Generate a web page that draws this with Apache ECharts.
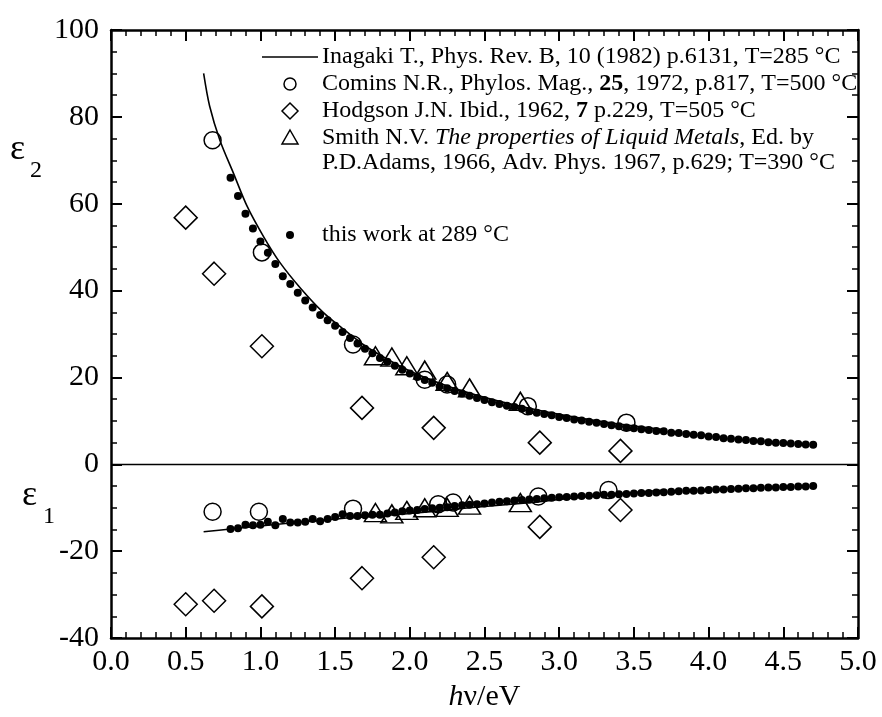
<!DOCTYPE html>
<html><head><meta charset="utf-8">
<script src="https://cdn.jsdelivr.net/npm/echarts@6/dist/echarts.min.js"></script>
<style>html,body{margin:0;padding:0;background:#fff}#c{width:882px;height:717px}</style>
</head><body><div id="c"></div>
<script>
// ---- data (photon energy hv in eV) ----
const workE = [0.80,0.85,0.90,0.95,1.00,1.05,1.10,1.15,1.20,1.25,1.30,1.35,1.40,1.45,1.50,1.55,1.60,1.65,1.70,1.75,1.80,1.85,1.90,1.95,2.00,2.05,2.10,2.15,2.20,2.25,2.30,2.35,2.40,2.45,2.50,2.55,2.60,2.65,2.70,2.75,2.80,2.85,2.90,2.95,3.00,3.05,3.10,3.15,3.20,3.25,3.30,3.35,3.40,3.45,3.50,3.55,3.60,3.65,3.70,3.75,3.80,3.85,3.90,3.95,4.00,4.05,4.10,4.15,4.20,4.25,4.30,4.35,4.40,4.45,4.50,4.55,4.60,4.65,4.70];
const workEps2 = [66.0,61.8,57.7,54.3,51.3,48.7,46.1,43.3,41.5,39.5,37.7,36.1,34.4,33.2,31.9,30.5,29.1,27.8,26.6,25.6,24.5,23.6,22.7,21.8,20.9,20.1,19.4,18.8,18.0,17.5,16.9,16.3,15.8,15.3,14.8,14.3,13.9,13.5,13.2,12.8,12.3,11.9,11.6,11.3,10.9,10.7,10.3,10.1,9.8,9.6,9.3,9.0,8.8,8.5,8.3,8.1,7.9,7.7,7.6,7.3,7.2,7.0,6.8,6.7,6.4,6.3,6.0,5.9,5.7,5.6,5.4,5.3,5.1,5.0,4.9,4.8,4.7,4.6,4.5];
const workEps1 = [-14.9,-14.7,-13.9,-14.0,-13.9,-13.2,-14.0,-12.6,-13.4,-13.4,-13.2,-12.6,-13.1,-12.6,-12.1,-11.5,-11.9,-11.9,-11.7,-11.6,-11.6,-11.3,-11.1,-10.8,-10.6,-10.5,-10.3,-10.1,-10.0,-9.9,-9.6,-9.4,-9.3,-9.2,-9.0,-8.8,-8.6,-8.5,-8.3,-8.2,-8.1,-8.0,-7.8,-7.7,-7.6,-7.5,-7.4,-7.3,-7.2,-7.1,-7.0,-7.0,-6.9,-6.8,-6.7,-6.6,-6.6,-6.5,-6.4,-6.3,-6.2,-6.1,-6.1,-6.0,-5.9,-5.8,-5.8,-5.7,-5.6,-5.5,-5.5,-5.4,-5.3,-5.3,-5.2,-5.2,-5.1,-5.1,-5.0];

const inagakiE2   = [0.62,0.66,0.73,0.82,0.91,1.02,1.13,1.27,1.42,1.56,1.70,1.85,2.00,2.20,2.40,2.60,2.80,3.00,3.20,3.40,3.70];
const inagakiEps2 = [90,82.5,74.5,67,59.5,52.5,46.5,40.5,35,31,27.3,24.2,21.5,18.7,16.4,14.5,12.9,11.5,10.3,9.3,8.0];
const inagakiE1   = [0.62,0.80,1.00,1.20,1.40,1.60,1.80,2.00,2.20,2.40,2.60,2.80,3.00,3.20,3.40,3.60,3.70];
const inagakiEps1 = [-15.5,-14.9,-14.2,-13.5,-12.9,-12.3,-11.9,-11.3,-10.7,-10.0,-9.4,-8.8,-8.1,-7.4,-6.8,-6.2,-5.9];

const cominsE2   = [0.68,1.01,1.62,2.10,2.25,2.79,3.45];
const cominsEps2 = [74.6,48.8,27.6,19.5,18.4,13.4,9.6];
const cominsE1   = [0.68,0.99,1.62,2.19,2.29,2.86,3.33];
const cominsEps1 = [-10.9,-10.9,-10.2,-9.2,-8.8,-7.4,-5.9];

const hodgsonE    = [0.50,0.69,1.01,1.68,2.16,2.87,3.41];
const hodgsonEps2 = [56.8,43.9,27.2,13.0,8.4,5.0,3.1];
const hodgsonEps1 = [-32.2,-31.4,-32.7,-26.2,-21.4,-14.4,-10.5];

const smithE    = [1.77,1.88,1.98,2.10,2.25,2.40,2.74];
const smithEps2 = [25.0,24.7,22.7,21.7,19.1,17.6,14.5];
const smithEps1 = [-11.1,-11.4,-10.6,-10.0,-9.9,-9.4,-8.8];

const legendTexts = [
  'Inagaki T., Phys. Rev. B, 10 (1982) p.6131, T=285 °C',
  'Comins N.R., Phylos. Mag., {b|25}, 1972, p.817, T=500 °C',
  'Hodgson J.N. Ibid., 1962, {b|7} p.229, T=505 °C',
  'Smith N.V. {i|The properties of Liquid Metals}, Ed. by',
  'P.D.Adams, 1966, Adv. Phys. 1967, p.629; T=390 °C',
  'this work at 289 °C'
];

// ---- helpers ----
const zip = (xs, ys) => xs.map((x, i) => [x, ys[i]]);
const FONT = '"Liberation Serif","Times New Roman",serif';
const LF = 24;

const chart = echarts.init(document.getElementById('c'), null, {renderer: 'canvas'});

const G = {left: 111, top: 30, right: 858, bottom: 640};
const axisLine = {show: true, onZero: false, lineStyle: {color: '#000', width: 2.5}};
const axisTick = {show: true, inside: true, length: 11, lineStyle: {color: '#000', width: 2}};
const minor = n => ({show: true, splitNumber: n, length: 6, lineStyle: {color: '#000', width: 1.5}});

const hollow = {color: 'rgba(0,0,0,0)', borderColor: '#000', borderWidth: 1.5, opacity: 1};
const legRich = {
  b: {fontFamily: FONT, fontSize: LF, fontWeight: 'bold', fill: '#000', color: '#000'},
  i: {fontFamily: FONT, fontSize: LF, fontStyle: 'italic', fill: '#000', color: '#000'}
};
const legY = [57, 84, 111, 138, 163, 235];
const graphics = [];
legendTexts.forEach((t, k) => {
  graphics.push({type: 'text', left: 322, top: legY[k] - 12, z: 100,
    style: {text: t, font: LF + 'px ' + FONT, fill: '#000', rich: legRich}});
});
graphics.push({type: 'line', shape: {x1: 262, y1: legY[0], x2: 318, y2: legY[0]}, style: {stroke: '#000', lineWidth: 1.6}});
graphics.push({type: 'circle', shape: {cx: 290, cy: legY[1], r: 6}, style: {fill: 'none', stroke: '#000', lineWidth: 1.5}});
graphics.push({type: 'polygon', shape: {points: [[290, legY[2]-8],[298, legY[2]],[290, legY[2]+8],[282, legY[2]]]}, style: {fill: 'none', stroke: '#000', lineWidth: 1.5}});
graphics.push({type: 'polygon', shape: {points: [[290, legY[3]-8],[298, legY[3]+6],[282, legY[3]+6]]}, style: {fill: 'none', stroke: '#000', lineWidth: 1.5}});
graphics.push({type: 'circle', shape: {cx: 290, cy: legY[5], r: 4}, style: {fill: '#000'}});
// epsilon labels
graphics.push({type: 'text', left: 10, top: 132, style: {text: 'ε', font: '36px ' + FONT, fill: '#000'}});
graphics.push({type: 'text', left: 30, top: 159, style: {text: '2', font: '24px ' + FONT, fill: '#000'}});
graphics.push({type: 'text', left: 22, top: 478, style: {text: 'ε', font: '36px ' + FONT, fill: '#000'}});
graphics.push({type: 'text', left: 43, top: 505, style: {text: '1', font: '24px ' + FONT, fill: '#000'}});

const option = {
  animation: false,
  backgroundColor: '#fff',
  grid: {left: G.left, top: G.top, width: G.right - G.left, height: G.bottom - G.top, containLabel: false},
  xAxis: [
    {type: 'value', min: 0, max: 5, interval: 0.5, position: 'bottom',
      axisLine: axisLine, axisTick: axisTick, minorTick: minor(5), splitLine: {show: false},
      axisLabel: {color: '#000', fontFamily: FONT, fontSize: 30, margin: 9, formatter: v => v.toFixed(1)},
      name: '{i|h}ν/eV', nameLocation: 'middle', nameGap: 42,
      nameTextStyle: {color: '#000', fontFamily: FONT, fontSize: 30,
        rich: {i: {fontFamily: FONT, fontSize: 30, fontStyle: 'italic', color: '#000'}}}},
    {type: 'value', min: 0, max: 5, interval: 0.5, position: 'top',
      axisLine: axisLine, axisTick: axisTick, minorTick: minor(5), splitLine: {show: false},
      axisLabel: {show: false}}
  ],
  yAxis: [
    {type: 'value', min: -40, max: 100, interval: 20, position: 'left',
      axisLine: axisLine, axisTick: axisTick, minorTick: minor(4), splitLine: {show: false},
      axisLabel: {color: '#000', fontFamily: FONT, fontSize: 30, margin: 12}},
    {type: 'value', min: -40, max: 100, interval: 20, position: 'right',
      axisLine: axisLine, axisTick: axisTick, minorTick: minor(4), splitLine: {show: false},
      axisLabel: {show: false}}
  ],
  graphic: graphics,
  series: [
    {type: 'line', name: 'Inagaki e2', data: zip(inagakiE2, inagakiEps2), showSymbol: false, smooth: 0.3,
      lineStyle: {color: '#000', width: 1.6}, z: 2,
      markLine: {silent: true, symbol: 'none', label: {show: false}, lineStyle: {color: '#000', width: 1.3, type: 'solid'}, data: [{yAxis: 0}]}},
    {type: 'line', name: 'Inagaki e1', data: zip(inagakiE1, inagakiEps1), showSymbol: false, smooth: 0.3,
      lineStyle: {color: '#000', width: 1.6}, z: 2},
    {type: 'scatter', data: zip(cominsE2, cominsEps2), symbol: 'circle', symbolSize: 17, itemStyle: hollow, z: 3},
    {type: 'scatter', data: zip(cominsE1, cominsEps1), symbol: 'circle', symbolSize: 17, itemStyle: hollow, z: 3},
    {type: 'scatter', data: zip(hodgsonE, hodgsonEps2), symbol: 'diamond', symbolSize: [23, 23], itemStyle: hollow, z: 3},
    {type: 'scatter', data: zip(hodgsonE, hodgsonEps1), symbol: 'diamond', symbolSize: [23, 23], itemStyle: hollow, z: 3},
    {type: 'scatter', data: zip(smithE, smithEps2), symbol: 'triangle', symbolSize: [22, 18], itemStyle: hollow, z: 3},
    {type: 'scatter', data: zip(smithE, smithEps1), symbol: 'triangle', symbolSize: [22, 18], itemStyle: hollow, z: 3},
    {type: 'scatter', data: zip(workE, workEps2), symbol: 'circle', symbolSize: 8, itemStyle: {color: '#000', opacity: 1}, z: 4},
    {type: 'scatter', data: zip(workE, workEps1), symbol: 'circle', symbolSize: 8, itemStyle: {color: '#000', opacity: 1}, z: 4}
  ]
};
chart.setOption(option);
</script>
</body></html>
